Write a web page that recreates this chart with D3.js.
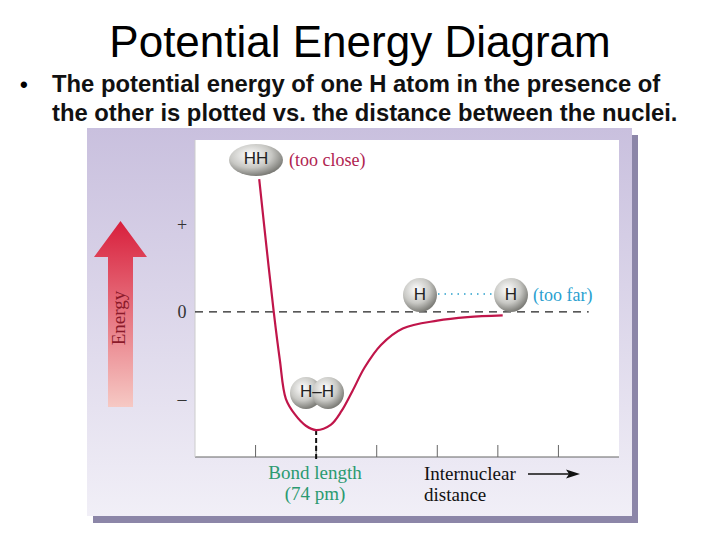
<!DOCTYPE html><html><head><meta charset="utf-8"><script src="https://cdn.jsdelivr.net/npm/d3@7"></script>
<style>body{margin:0;background:#fff}</style></head><body><svg id="c" width="720" height="540"></svg>
<script>
const title = "Potential Energy Diagram";
const bulletLines = ["The potential energy of one H atom in the presence of","the other is plotted vs. the distance between the nuclei."];
const curveX = [1.06,1.18,1.30,1.40,1.50,1.65,1.83,2.0,2.24,2.42,2.6,2.8,3.07,3.43,4.0,4.5,5.08];
const curveY = [1.53,0.75,0.0,-0.55,-1.0,-1.18,-1.31,-1.36,-1.30,-1.14,-0.91,-0.64,-0.38,-0.19,-0.10,-0.06,-0.04];
const xTicks = [1,2,3,4,5,6];
const yTicks = [{v:1,l:"+"},{v:0,l:"0"},{v:-1,l:"–"}];
const bondX = 2.0;

const svg = d3.select("#c");
const defs = svg.append("defs");
const bg = defs.append("linearGradient").attr("id","bg").attr("x1",0).attr("y1",0).attr("x2",0).attr("y2",1);
bg.append("stop").attr("offset",0).attr("stop-color","#c9c0de");
bg.append("stop").attr("offset",1).attr("stop-color","#f1eff7");
const ar = defs.append("linearGradient").attr("id","ar").attr("x1",0).attr("y1",0).attr("x2",0).attr("y2",1);
ar.append("stop").attr("offset",0).attr("stop-color","#d81f3c");
ar.append("stop").attr("offset",1).attr("stop-color","#f6c9c4");
const sp = defs.append("radialGradient").attr("id","sp").attr("cx","40%").attr("cy","35%").attr("r","65%");
sp.append("stop").attr("offset",0).attr("stop-color","#ffffff");
sp.append("stop").attr("offset",0.6).attr("stop-color","#c8c8c4");
sp.append("stop").attr("offset",1).attr("stop-color","#7d7d78");

svg.append("text").attr("x",360).attr("y",57).attr("text-anchor","middle").attr("font-family","Liberation Sans").attr("font-size",44).text(title);
svg.append("text").attr("x",20).attr("y",92).attr("font-family","Liberation Sans").attr("font-size",22).attr("font-weight","bold").text("•");
bulletLines.forEach((t,i)=>svg.append("text").attr("x",52).attr("y",92+29*i).attr("font-family","Liberation Sans").attr("font-size",23.8).attr("font-weight","bold").attr("fill","#111").text(t));

// panel
svg.append("rect").attr("x",93).attr("y",135).attr("width",545).attr("height",388).attr("fill","#8c86a8");
svg.append("rect").attr("x",87).attr("y",128).attr("width",545).attr("height",388).attr("fill","url(#bg)");

const m = {l:195,r:619,t:140,b:457};
const x = d3.scaleLinear().domain([0,7]).range([m.l,m.r]);
const y = d3.scaleLinear().domain([-1.67,1.98]).range([m.b,m.t]);
svg.append("rect").attr("x",m.l).attr("y",m.t).attr("width",m.r-m.l).attr("height",m.b-m.t).attr("fill","#fff");
svg.append("line").attr("x1",m.l).attr("x2",m.r).attr("y1",m.b).attr("y2",m.b).attr("stroke","#666").attr("stroke-width",1.2);
svg.append("line").attr("x1",m.l).attr("x2",m.l).attr("y1",m.t).attr("y2",m.b).attr("stroke","#ccc");
svg.selectAll(".xt").data(xTicks).enter().append("line").attr("x1",d=>x(d)).attr("x2",d=>x(d)).attr("y1",m.b).attr("y2",m.b-12).attr("stroke","#666");
svg.selectAll(".yt").data(yTicks).enter().append("text").attr("x",182).attr("y",d=>y(d.v)+6).attr("text-anchor","middle").attr("font-family","Liberation Serif").attr("font-size",18).attr("fill","#333").text(d=>d.l);
svg.append("line").attr("x1",m.l).attr("x2",x(6.5)).attr("y1",y(0)).attr("y2",y(0)).attr("stroke","#222").attr("stroke-width",1.3).attr("stroke-dasharray","8,6");
svg.append("line").attr("x1",x(bondX)).attr("x2",x(bondX)).attr("y1",y(-1.36)).attr("y2",m.b+3).attr("stroke","#111").attr("stroke-width",2).attr("stroke-dasharray","5,3");

const pts = curveX.map((v,i)=>[v,curveY[i]]);
svg.append("path").attr("d",d3.line().x(d=>x(d[0])).y(d=>y(d[1])).curve(d3.curveCatmullRom)(pts)).attr("fill","none").attr("stroke","#c0154a").attr("stroke-width",2.2);

// arrow
svg.append("path").attr("d","M108,407 L108,257 L94,257 L120.5,221 L147,257 L133,257 L133,407 Z").attr("fill","url(#ar)");
svg.append("text").attr("transform","translate(125,318) rotate(-90)").attr("text-anchor","middle").attr("font-family","Liberation Serif").attr("font-size",19).attr("fill","#8b1a2a").text("Energy");

function atom(cx,cy,rx,ry){svg.append("ellipse").attr("cx",cx).attr("cy",cy).attr("rx",rx).attr("ry",ry).attr("fill","url(#sp)");}
function lab(t,cx,cy,fs){svg.append("text").attr("x",cx).attr("y",cy+6).attr("text-anchor","middle").attr("font-family","Liberation Sans").attr("font-size",fs||17).attr("fill","#222").text(t);}
atom(256,160,27,16); lab("HH",256,158);
svg.append("text").attr("x",289).attr("y",166).attr("font-family","Liberation Serif").attr("font-size",18).attr("fill","#b0234f").text("(too close)");
svg.append("line").attr("x1",438).attr("x2",494).attr("y1",294).attr("y2",294).attr("stroke","#2aa0cc").attr("stroke-width",1.6).attr("stroke-dasharray","1.5,5");
atom(420,295,17,17); lab("H",420,294);
atom(511,295,17,17); lab("H",511,294);
svg.append("text").attr("x",533).attr("y",301).attr("font-family","Liberation Serif").attr("font-size",18).attr("fill","#2a9fd0").text("(too far)");
atom(306,393,16,16); atom(328,393,16,16); lab("H–H",317,391);

svg.append("text").attr("x",315).attr("y",479).attr("text-anchor","middle").attr("font-family","Liberation Serif").attr("font-size",19).attr("fill","#2a9a70").text("Bond length");
svg.append("text").attr("x",315).attr("y",500).attr("text-anchor","middle").attr("font-family","Liberation Serif").attr("font-size",19).attr("fill","#2a9a70").text("(74 pm)");
svg.append("text").attr("x",424).attr("y",480).attr("font-family","Liberation Serif").attr("font-size",19).attr("fill","#111").text("Internuclear");
svg.append("text").attr("x",424).attr("y",501).attr("font-family","Liberation Serif").attr("font-size",19).attr("fill","#111").text("distance");
svg.append("line").attr("x1",528).attr("x2",570).attr("y1",474).attr("y2",474).attr("stroke","#111").attr("stroke-width",1.3);
svg.append("path").attr("d","M580,474 L566,469.5 L569,474 L566,478.5 Z").attr("fill","#111");
</script></body></html>
